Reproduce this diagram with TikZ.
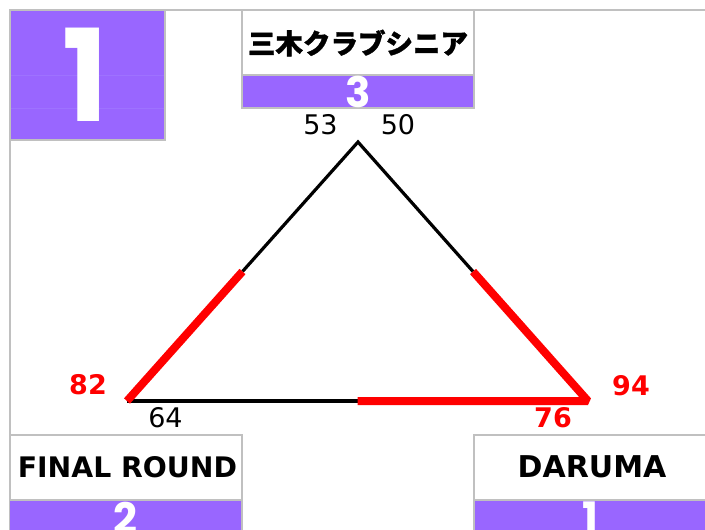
\documentclass[tikz,border=0pt]{standalone}
\usepackage{fontspec}
\setmainfont{DejaVu Sans}
\newfontfamily\jpfont[FakeBold=1.2]{Noto Sans CJK JP}
\newfontfamily\numfont{Poppins}
\definecolor{purp}{HTML}{9966FF}
\definecolor{purpl}{HTML}{9E72FF}
\definecolor{gborder}{HTML}{C0C0C0}
\definecolor{redc}{HTML}{FF0000}
\begin{document}
\begin{tikzpicture}[x=1pt,y=-1pt,
  frameline/.style={draw=gborder,line width=2.5pt},
  teamtxt/.style={inner sep=0pt,font=\fontsize{28.3}{30}\selectfont\bfseries,text=black},
  digit/.style={inner sep=0pt,font=\numfont\fontsize{42}{44}\selectfont\bfseries,text=white},
  score/.style={inner sep=0pt,font=\fontsize{27}{30}\selectfont,text=black},
  redscore/.style={inner sep=0pt,font=\fontsize{27}{30}\selectfont\bfseries,text=redc},
  blkline/.style={draw=black,line width=3.2pt},
  redline/.style={draw=redc,line width=8pt,line join=bevel}]
\useasboundingbox (0,0) rectangle (705,530);
\fill[white] (0,0) rectangle (705,530);
% rank box
\fill[purp] (10,10) rectangle (165,140);
\draw[purpl,line width=0.6pt] (11,75.5) -- (164,75.5);
\draw[purpl,line width=0.6pt] (11,108) -- (164,108);
\draw[frameline] (165,10) -- (165,140) -- (10,140);
\node[inner sep=0pt,font=\numfont\fontsize{128}{130}\selectfont\bfseries,text=white] (rank) at (85,75) {\scalebox{0.95}[1]{1}};
% outer frame
\draw[frameline] (10,530) -- (10,10) -- (705,10);
% top team box
\fill[purp] (242,75) rectangle (474,108);
\draw[frameline] (242,10) rectangle (474,108);
\draw[frameline] (242,75) -- (474,75);
\node[teamtxt] (t3) at (358,43) {\jpfont\fontsize{27.5}{30}\selectfont 三木クラブシニア};
\node[digit] (n3) at (358,92) {3};
% bottom-left team box
\fill[purp] (10,500) rectangle (242,530);
\draw[frameline] (10,435) -- (242,435) -- (242,531);
\draw[frameline] (10,500) -- (242,500);
\node[teamtxt] (t2) at (127.5,467) {FINAL ROUND};
\node[digit,anchor=north] (n2) at (125,502) {2};
% bottom-right team box
\fill[purp] (474,500) rectangle (706,530);
\draw[frameline] (706,435) -- (474,435) -- (474,531);
\draw[frameline] (474,500) -- (706,500);
\node[teamtxt,font=\fontsize{30}{32}\selectfont\bfseries] (t1) at (592,467) {DARUMA};
\node[digit,anchor=north] (n1) at (590,502) {1};
% triangle
\coordinate (A) at (358,142);
\coordinate (BL) at (127,401);
\coordinate (BR) at (588,401);
\coordinate (ML) at (242.5,271.5);
\coordinate (MR) at (473,271.5);
\coordinate (MB) at (357.5,401);
\draw[blkline] (ML) -- (A) -- (MR);
\draw[blkline] (BL) -- (MB);
\draw[redline] (ML) -- (BL);
\draw[redline] (MR) -- (BR) -- (MB);
% scores
\node[score] (s53) at (320.5,124.5) {53};
\node[score] (s50) at (398,124.5) {50};
\node[score] (s64) at (165.5,418) {64};
\node[redscore] (s82) at (88,385) {82};
\node[redscore] (s94) at (631,386) {94};
\node[redscore] (s76) at (553,417.5) {76};
\end{tikzpicture}
\end{document}
